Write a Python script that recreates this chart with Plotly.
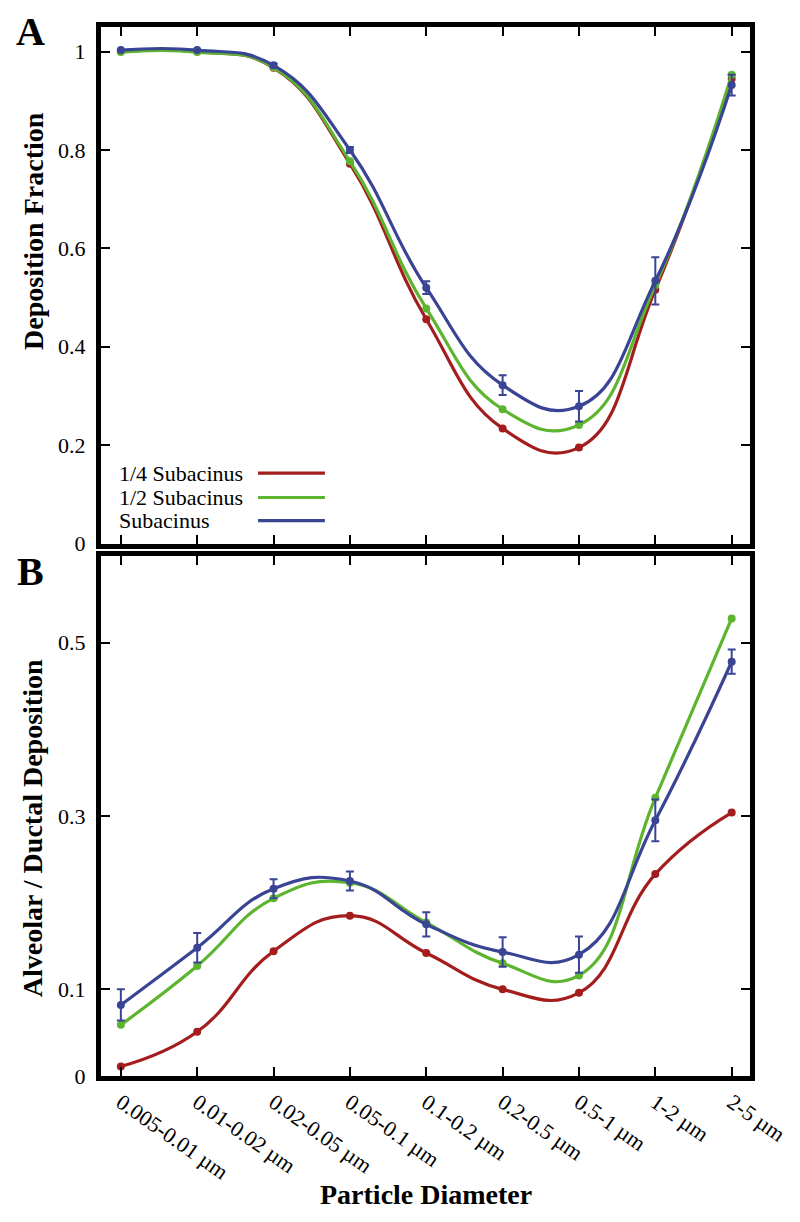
import plotly.graph_objects as go

categories = ["0.005-0.01 µm", "0.01-0.02 µm", "0.02-0.05 µm", "0.05-0.1 µm",
              "0.1-0.2 µm", "0.2-0.5 µm", "0.5-1 µm", "1-2 µm", "2-5 µm"]
series_names = ["1/4 Subacinus", "1/2 Subacinus", "Subacinus"]

# Panel A: Deposition Fraction
dep_quarter = [1.000, 1.000, 0.967, 0.772, 0.456, 0.234, 0.195, 0.516, 0.945]
dep_half    = [0.999, 0.999, 0.968, 0.777, 0.478, 0.273, 0.241, 0.525, 0.953]
dep_full    = [1.003, 1.003, 0.972, 0.800, 0.520, 0.322, 0.279, 0.534, 0.932]
dep_full_err = [0.0, 0.0, 0.004, 0.006, 0.013, 0.020, 0.031, 0.048, 0.021]

# Panel B: Alveolar / Ductal Deposition
ad_quarter = [0.011, 0.051, 0.144, 0.185, 0.142, 0.100, 0.096, 0.233, 0.304]
ad_half    = [0.059, 0.127, 0.205, 0.223, 0.177, 0.130, 0.116, 0.321, 0.528]
ad_full    = [0.082, 0.148, 0.216, 0.225, 0.175, 0.143, 0.140, 0.295, 0.478]
ad_full_err = [0.018, 0.017, 0.011, 0.011, 0.014, 0.017, 0.021, 0.024, 0.014]

yA_ticks = [0, 0.2, 0.4, 0.6, 0.8, 1.0]
yA_labels = ["0", "0.2", "0.4", "0.6", "0.8", "1"]
yB_ticks = [0, 0.1, 0.3, 0.5]
yB_labels = ["0", "0.1", "0.3", "0.5"]

colors = ["#A31D1E", "#5DB42F", "#3A4494"]
FONT = "Liberation Serif, Times New Roman, DejaVu Serif, serif"
x = list(range(len(categories)))

fig = go.Figure()

def add_series(ys, color, xa, ya, err=None):
    tr = go.Scatter(
        x=x, y=ys, mode="lines+markers", xaxis=xa, yaxis=ya,
        line=dict(color=color, width=3.2, shape="spline", smoothing=1.3),
        marker=dict(color=color, size=8),
        showlegend=False, hoverinfo="skip",
    )
    if err is not None:
        tr.error_y = dict(type="data", array=err, visible=True,
                          color=color, thickness=2, width=4)
    fig.add_trace(tr)

add_series(dep_quarter, colors[0], "x", "y")
add_series(dep_half, colors[1], "x", "y")
add_series(dep_full, colors[2], "x", "y", dep_full_err)

add_series(ad_quarter, colors[0], "x2", "y2")
add_series(ad_half, colors[1], "x2", "y2")
add_series(ad_full, colors[2], "x2", "y2", ad_full_err)

axis_common = dict(showline=True, linewidth=5, linecolor="black", mirror="ticks",
                   ticks="inside", ticklen=9, tickwidth=2, tickcolor="black",
                   showgrid=False, zeroline=False)

fig.update_layout(
    width=800, height=1222,
    margin=dict(l=93, r=58, t=19, b=154),
    paper_bgcolor="white", plot_bgcolor="white",
    font=dict(family=FONT, size=22, color="black"),
    xaxis=dict(axis_common, domain=[0, 1], range=[-0.26, 8.24], anchor="y",
               tickvals=x, ticktext=categories, showticklabels=False),
    yaxis=dict(axis_common, domain=[0.5076, 1.0], range=[0, 1.05], anchor="x",
               tickvals=yA_ticks, ticktext=yA_labels, ticklabelstandoff=6),
    xaxis2=dict(axis_common, domain=[0, 1], range=[-0.26, 8.24], anchor="y2",
                tickvals=x, ticktext=categories, tickangle=35,
                tickfont=dict(size=22)),
    yaxis2=dict(axis_common, domain=[0.0, 0.4957], range=[0, 0.6], anchor="x2",
                tickvals=yB_ticks, ticktext=yB_labels, ticklabelstandoff=6),
)

# Panel letters and axis titles
ann = [
    dict(text="<b>A</b>", x=-0.108, y=0.996, font=dict(size=40)),
    dict(text="<b>B</b>", x=-0.108, y=0.481, font=dict(size=40)),
    dict(text="<b>Deposition Fraction</b>", x=-0.105, y=0.8055, textangle=-90,
         font=dict(size=28)),
    dict(text="<b>Alveolar / Ductal Deposition</b>", x=-0.105, y=0.236, textangle=-90,
         font=dict(size=28)),
    dict(text="<b>Particle Diameter</b>", x=0.5, y=-0.113, font=dict(size=28)),
]
for a in ann:
    fig.add_annotation(xref="paper", yref="paper", showarrow=False,
                       xanchor="center", yanchor="middle", **a)

# Custom legend (text left, line key right)
leg_y = [0.5748, 0.5515, 0.5295]
for name, c, yy in zip(series_names, colors, leg_y):
    fig.add_annotation(xref="paper", yref="paper", x=0.024, y=yy, text=name,
                       showarrow=False, xanchor="left", yanchor="middle",
                       font=dict(size=22))
    fig.add_shape(type="line", xref="paper", yref="paper",
                  x0=0.242, x1=0.345, y0=yy, y1=yy,
                  line=dict(color=c, width=3.2))

fig.write_html("out.html")
